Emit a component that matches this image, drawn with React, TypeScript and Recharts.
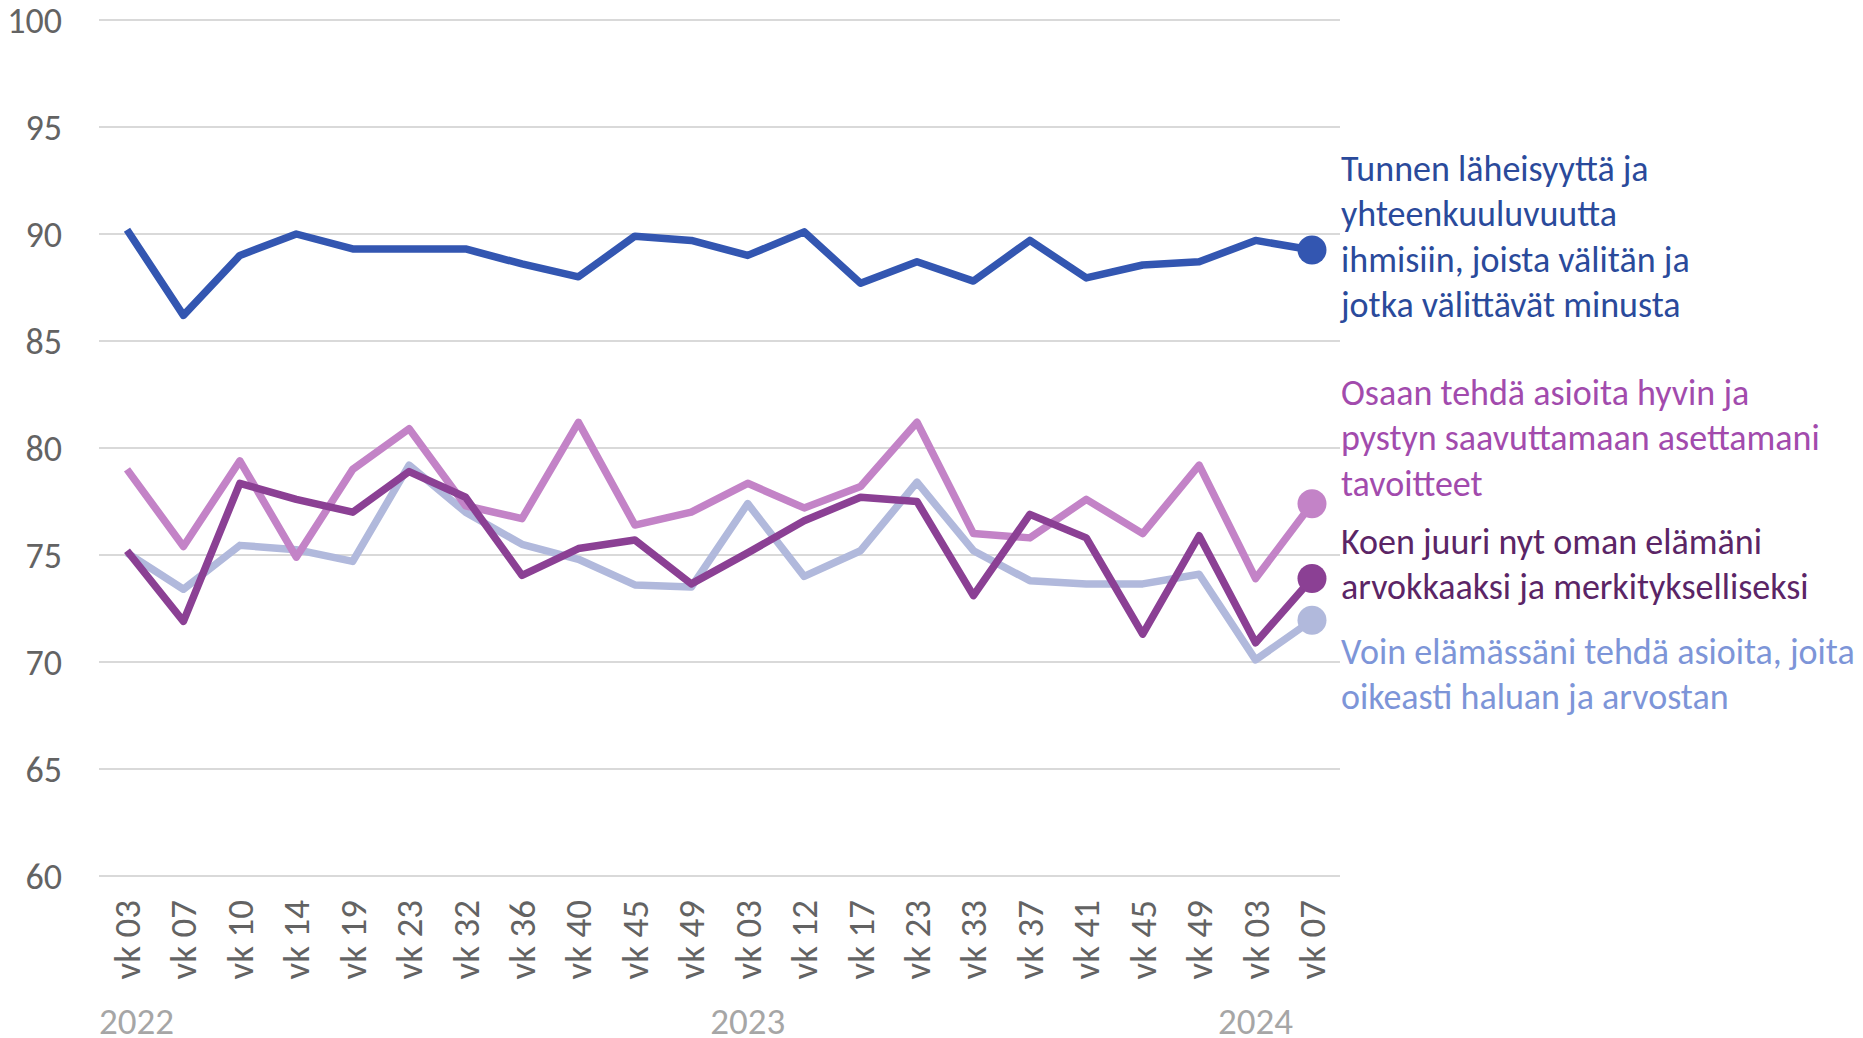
import React from "react";
import { LineChart, Line, XAxis, YAxis, CartesianGrid } from "recharts";

const weeks = [
  "vk 03", "vk 07", "vk 10", "vk 14", "vk 19", "vk 23", "vk 32", "vk 36", "vk 40", "vk 45", "vk 49",
  "vk 03", "vk 12", "vk 17", "vk 23", "vk 33", "vk 37", "vk 41", "vk 45", "vk 49",
  "vk 03", "vk 07",
];
const yearLabels = ["2022", "", "", "", "", "", "", "", "", "", "", "2023", "", "", "", "", "", "", "", "", "2024", ""];

const tunnen = [90.2, 86.2, 89.0, 90.0, 89.3, 89.3, 89.3, 88.6, 88.0, 89.9, 89.7, 89.0, 90.1, 87.7, 88.7, 87.8, 89.7, 87.95, 88.55, 88.7, 89.7, 89.25];
const osaan = [79.0, 75.4, 79.4, 74.9, 79.0, 80.9, 77.3, 76.7, 81.2, 76.4, 77.0, 78.35, 77.2, 78.2, 81.2, 76.0, 75.8, 77.6, 76.0, 79.2, 73.9, 77.4];
const koen = [75.2, 71.9, 78.35, 77.6, 77.0, 78.9, 77.7, 74.05, 75.3, 75.7, 73.65, 75.1, 76.6, 77.7, 77.5, 73.1, 76.9, 75.8, 71.3, 75.9, 70.9, 73.9];
const voin = [75.1, 73.4, 75.45, 75.25, 74.7, 79.2, 77.0, 75.5, 74.8, 73.6, 73.5, 77.4, 74.0, 75.2, 78.4, 75.2, 73.8, 73.65, 73.65, 74.1, 70.1, 71.95];

const yTicks = [60, 65, 70, 75, 80, 85, 90, 95, 100];

const tunnenText = ["Tunnen läheisyyttä ja", "yhteenkuuluvuutta", "ihmisiin, joista välitän ja", "jotka välittävät minusta"];
const osaanText = ["Osaan tehdä asioita hyvin ja", "pystyn saavuttamaan asettamani", "tavoitteet"];
const koenText = ["Koen juuri nyt oman elämäni", "arvokkaaksi ja merkitykselliseksi"];
const voinText = ["Voin elämässäni tehdä asioita, joita", "oikeasti haluan ja arvostan"];

const data = weeks.map((w, i) => ({
  i,
  tunnen: tunnen[i],
  osaan: osaan[i],
  koen: koen[i],
  voin: voin[i],
}));

const FONT = "Carlito, Lato, sans-serif";
const last = weeks.length - 1;

const XTick = (props: any) => {
  const { x, payload } = props;
  const idx = payload.value;
  return (
    <g>
      <text
        transform={`translate(${x},900) rotate(-90)`}
        textAnchor="end"
        dy="0.35em"
        fontSize={37}
        fontWeight={300}
        fontFamily={FONT}
        fill="#636363"
      >
        {weeks[idx]}
      </text>
      {yearLabels[idx] ? (
        <text x={idx === 0 ? x - 28 : x} y={1034} textAnchor={idx === 0 ? "start" : "middle"} fontSize={37} fontWeight={300} fontFamily={FONT} fill="#A6A6A6">
          {yearLabels[idx]}
        </text>
      ) : null}
    </g>
  );
};

const YTick = (props: any) => {
  const { y, payload } = props;
  return (
    <text x={62} y={y} dy="0.35em" textAnchor="end" fontSize={36} fontWeight={300} fontFamily={FONT} fill="#636363">
      {payload.value}
    </text>
  );
};

const endDot = (color: string) => (props: any) => {
  const { cx, cy, index } = props;
  if (index !== last) return <g key={`d${index}`} />;
  return <circle key={`d${index}`} cx={cx} cy={cy} r={14.5} fill={color} />;
};

const Label = ({ lines, y0, color }: { lines: string[]; y0: number; color: string }) => (
  <>
    {lines.map((t, k) => (
      <text key={k} x={1341} y={y0 + k * 45.3} fontSize={36} fontFamily={FONT} fill={color}>
        {t}
      </text>
    ))}
  </>
);

export default function App() {
  return (
    <div style={{ position: "absolute", left: 0, top: 0, width: 1863, height: 1038, background: "#fff" }}>
      <LineChart width={1863} height={1038} data={data} margin={{ top: 20, right: 523, bottom: 0, left: 0 }}>
        <CartesianGrid vertical={false} stroke="#D9D9D9" strokeWidth={2} />
        <XAxis
          dataKey="i"
          type="category"
          interval={0}
          height={162}
          axisLine={false}
          tickLine={false}
          padding={{ left: 28, right: 28 }}
          tick={<XTick />}
        />
        <YAxis
          domain={[60, 100]}
          ticks={yTicks}
          width={99}
          axisLine={false}
          tickLine={false}
          tick={<YTick />}
        />
        <Line dataKey="voin" stroke="#B1B9DC" strokeWidth={7.5} strokeLinejoin="round" dot={endDot("#B1B9DC")} activeDot={false} isAnimationActive={false} />
        <Line dataKey="osaan" stroke="#C383C7" strokeWidth={7.5} strokeLinejoin="round" dot={endDot("#C383C7")} activeDot={false} isAnimationActive={false} />
        <Line dataKey="koen" stroke="#8B4094" strokeWidth={7.5} strokeLinejoin="round" dot={endDot("#8B4094")} activeDot={false} isAnimationActive={false} />
        <Line dataKey="tunnen" stroke="#3356B1" strokeWidth={7.5} strokeLinejoin="round" dot={endDot("#3356B1")} activeDot={false} isAnimationActive={false} />
      </LineChart>
      <svg width={1863} height={1038} style={{ position: "absolute", left: 0, top: 0, pointerEvents: "none" }}>
        <Label lines={tunnenText} y0={181} color="#2A4A9B" />
        <Label lines={osaanText} y0={405} color="#A24BAD" />
        <Label lines={koenText} y0={554} color="#5B2566" />
        <Label lines={voinText} y0={664} color="#7D95D8" />
      </svg>
    </div>
  );
}
